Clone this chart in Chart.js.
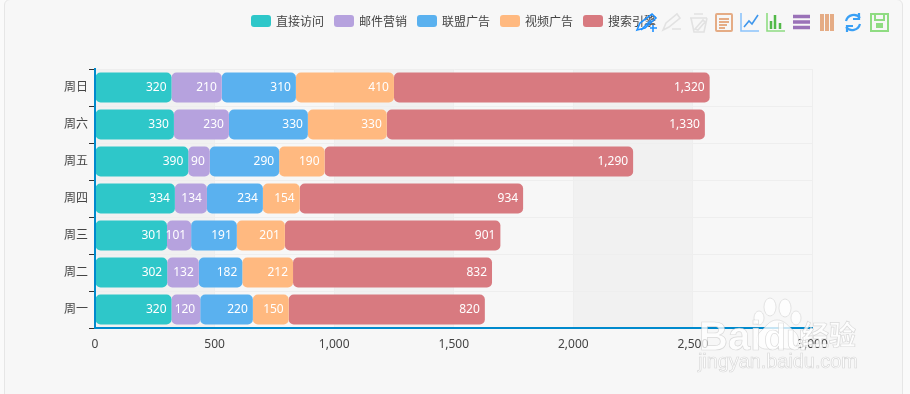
<!DOCTYPE html>
<html>
<head>
<meta charset="utf-8">
<title>Stacked bars</title>
<script src="https://cdn.jsdelivr.net/npm/chart.js@4"></script>
<style>
	html, body { margin: 0; width: 910px; height: 394px; overflow: hidden; background: #fafafa; }
	#panel { position: absolute; left: 4px; top: -1px; width: 897px; height: 410px; background: #f7f7f7; border: 1px solid #e6e6e6; border-radius: 6px; }
	#chart { position: absolute; left: 0; top: 0; }
	#legend { position: absolute; left: 251px; top: 12px; display: flex; font: 12px/18px "Noto Sans CJK SC", sans-serif; color: #444; }
	#legend div { display: flex; align-items: center; width: 83px; }
	#legend i { display: block; width: 20px; height: 12px; margin-right: 5px; border-radius: 3px; }
	.overlay { position: absolute; left: 0; top: 0; }
	.wm { fill: rgba(255, 255, 255, 0.78); stroke: rgba(190, 190, 190, 0.55); stroke-width: 0.7; }
</style>
</head>
<body>
<div id="panel"></div>
<canvas id="chart" width="910" height="394"></canvas>
<div id="legend"></div>

<!-- toolbox icons -->
<svg class="overlay" width="910" height="394" fill="none" stroke-width="1.6">
	<g stroke="#1e90ff">
		<path d="M637 30l3-7 12-9 4 4-11 10z"/><path d="M641 30l10-10M653 25v7M650 28h7"/>
	</g>
	<g stroke="#e2e2e2">
		<path d="M663 30l3-7 11-9 3 4-11 9zM672 29h9"/>
		<path d="M690 18h17M694 14h9M691 18l3 14h10l3-14M695 29l8-9 2 2-7 8z"/>
	</g>
	<g stroke="#e5ac85" stroke-width="2">
		<rect x="716" y="14" width="16" height="17" rx="1"/><path d="M719 19h10M719 22h10M719 25h8M719 28h6"/>
	</g>
	<g stroke="#8cc4fb">
		<path d="M741 13v18h18"/><path d="M744 27l5-6 3 3 6-9" stroke="#3f97ec"/>
	</g>
	<g>
		<path d="M767 13v18h18" stroke="#8fdc82"/>
		<path d="M771 21v8M775 15v14M780 23v6" stroke="#52b948" stroke-width="2.5"/>
	</g>
	<g stroke="#9a72b8" stroke-width="3.5">
		<path d="M793 16.5h17M793 22h17M793 27.5h17"/>
	</g>
	<g stroke="#e5ac85" stroke-width="4">
		<path d="M822 14v17M827 14v17M832 14v17"/>
	</g>
	<g stroke="#3aa0f5" stroke-width="2.2">
		<path d="M846 21a8 8 0 0 1 14-3M859 13v6h-6M860 24a8 8 0 0 1-14 3M847 32v-6h6"/>
	</g>
	<g stroke="#8fdc82" stroke-width="2">
		<path d="M871 14h17v17h-17zM875 14v6h9v-6"/><rect x="877" y="24" width="5" height="3" fill="#8fdc82"/>
	</g>
</svg>

<!-- baidu watermark -->
<svg class="overlay" width="910" height="394">
	<g class="wm">
		<ellipse cx="770" cy="307" rx="6" ry="9"/>
		<ellipse cx="785" cy="308" rx="6" ry="9"/>
		<ellipse cx="759" cy="318" rx="5" ry="7"/>
		<ellipse cx="796" cy="318" rx="5" ry="7"/>
		<path d="M777 320c8 0 12 7 18 12 7 7 3 18-8 17-6-1-13-1-19 0-11 1-15-10-8-17 6-5 9-12 17-12z"/>
		<text x="699" y="350" font-family="Liberation Sans" font-weight="bold" font-size="40">Bai</text>
		<text x="764" y="350" font-family="Liberation Sans" font-weight="bold" font-size="36">du</text>
		<text x="802" y="345" font-family="Noto Sans CJK SC" font-weight="bold" font-size="27">经验</text>
		<text x="698" y="368" font-family="Liberation Sans" font-size="20" textLength="160">jingyan.baidu.com</text>
	</g>
</svg>

<script>
const CATEGORIES = ["周一", "周二", "周三", "周四", "周五", "周六", "周日"];
const SERIES_NAMES = ["直接访问", "邮件营销", "联盟广告", "视频广告", "搜索引擎"];
const SERIES_COLORS = ["#2ec7c9", "#b6a2de", "#5ab1ef", "#ffb980", "#d87a80"];

const DIRECT = [320, 302, 301, 334, 390, 330, 320];
const EMAIL = [120, 132, 101, 134, 90, 230, 210];
const UNION_ADS = [220, 182, 191, 234, 290, 330, 310];
const VIDEO_ADS = [150, 212, 201, 154, 190, 330, 410];
const SEARCH = [820, 832, 901, 934, 1290, 1330, 1320];

const SERIES_VALUES = [DIRECT, EMAIL, UNION_ADS, VIDEO_ADS, SEARCH];
const FONT = '"Noto Sans", "Noto Sans CJK SC", sans-serif';

// Legend
document.getElementById("legend").innerHTML = SERIES_NAMES.map(
	(name, i) => `<div><i style="background:${SERIES_COLORS[i]}"></i>${name}</div>`
).join("");

// Alternating bands behind the bars
const splitAreas = {
	id: "splitAreas",
	beforeDraw(chart) {
		const { ctx, chartArea, scales } = chart;
		const ticks = scales.x.ticks;
		ctx.save();
		ctx.fillStyle = "rgba(200,200,200,0.1)";
		for (let i = 0; i < ticks.length - 1; i += 2) {
			const left = scales.x.getPixelForValue(ticks[i].value);
			const right = scales.x.getPixelForValue(ticks[i + 1].value);
			ctx.fillRect(left, chartArea.top, right - left, chartArea.height);
		}
		ctx.restore();
	},
};

// Chart.js only rounds the ends of a stack, every segment is rounded here
const roundSegments = {
	id: "roundSegments",
	beforeDatasetsDraw(chart) {
		chart.data.datasets.forEach((dataset, d) => {
			chart.getDatasetMeta(d).data.forEach((bar) => {
				bar.enableBorderRadius = true;
			});
		});
	},
};

// Value labels, inside the right end of each bar
const barLabels = {
	id: "barLabels",
	afterDatasetsDraw(chart) {
		const { ctx } = chart;
		ctx.save();
		ctx.font = "12px " + FONT;
		ctx.fillStyle = "#fff";
		ctx.textAlign = "right";
		ctx.textBaseline = "middle";
		chart.data.datasets.forEach((dataset, d) => {
			chart.getDatasetMeta(d).data.forEach((bar, i) => {
				ctx.fillText(dataset.data[i].toLocaleString("en-US"), bar.x - 5, bar.y);
			});
		});
		ctx.restore();
	},
};

new Chart(document.getElementById("chart"), {
	type: "bar",
	data: {
		labels: CATEGORIES,
		datasets: SERIES_NAMES.map((name, i) => ({
			label: name,
			data: SERIES_VALUES[i],
			backgroundColor: SERIES_COLORS[i],
			borderRadius: 5,
			borderSkipped: false,
			barPercentage: 30 / 37,
			categoryPercentage: 1,
		})),
	},
	options: {
		indexAxis: "y",
		responsive: false,
		animation: false,
		layout: {
			padding: { top: 69, right: 97.5 },
		},
		scales: {
			x: {
				stacked: true,
				min: 0,
				max: 3000,
				afterFit: (scale) => {
					scale.height = 66;
				},
				border: { color: "#008acd", width: 2, z: 1 },
				grid: { color: "#eee", drawTicks: false },
				ticks: {
					stepSize: 500,
					padding: 9,
					color: "#444",
					maxRotation: 0,
					font: { family: FONT, size: 12 },
					callback: (value) => value.toLocaleString("en-US"),
				},
			},
			y: {
				stacked: true,
				reverse: true,
				afterFit: (scale) => {
					scale.width = 95;
				},
				border: { color: "#008acd", width: 2, z: 1 },
				grid: { color: "#eee", tickColor: "#333", tickLength: 6 },
				ticks: {
					padding: 1,
					color: "#444",
					font: { family: FONT, size: 12 },
				},
			},
		},
		plugins: {
			legend: { display: false },
			tooltip: { enabled: false },
		},
	},
	plugins: [splitAreas, roundSegments, barLabels],
});
</script>
</body>
</html>
